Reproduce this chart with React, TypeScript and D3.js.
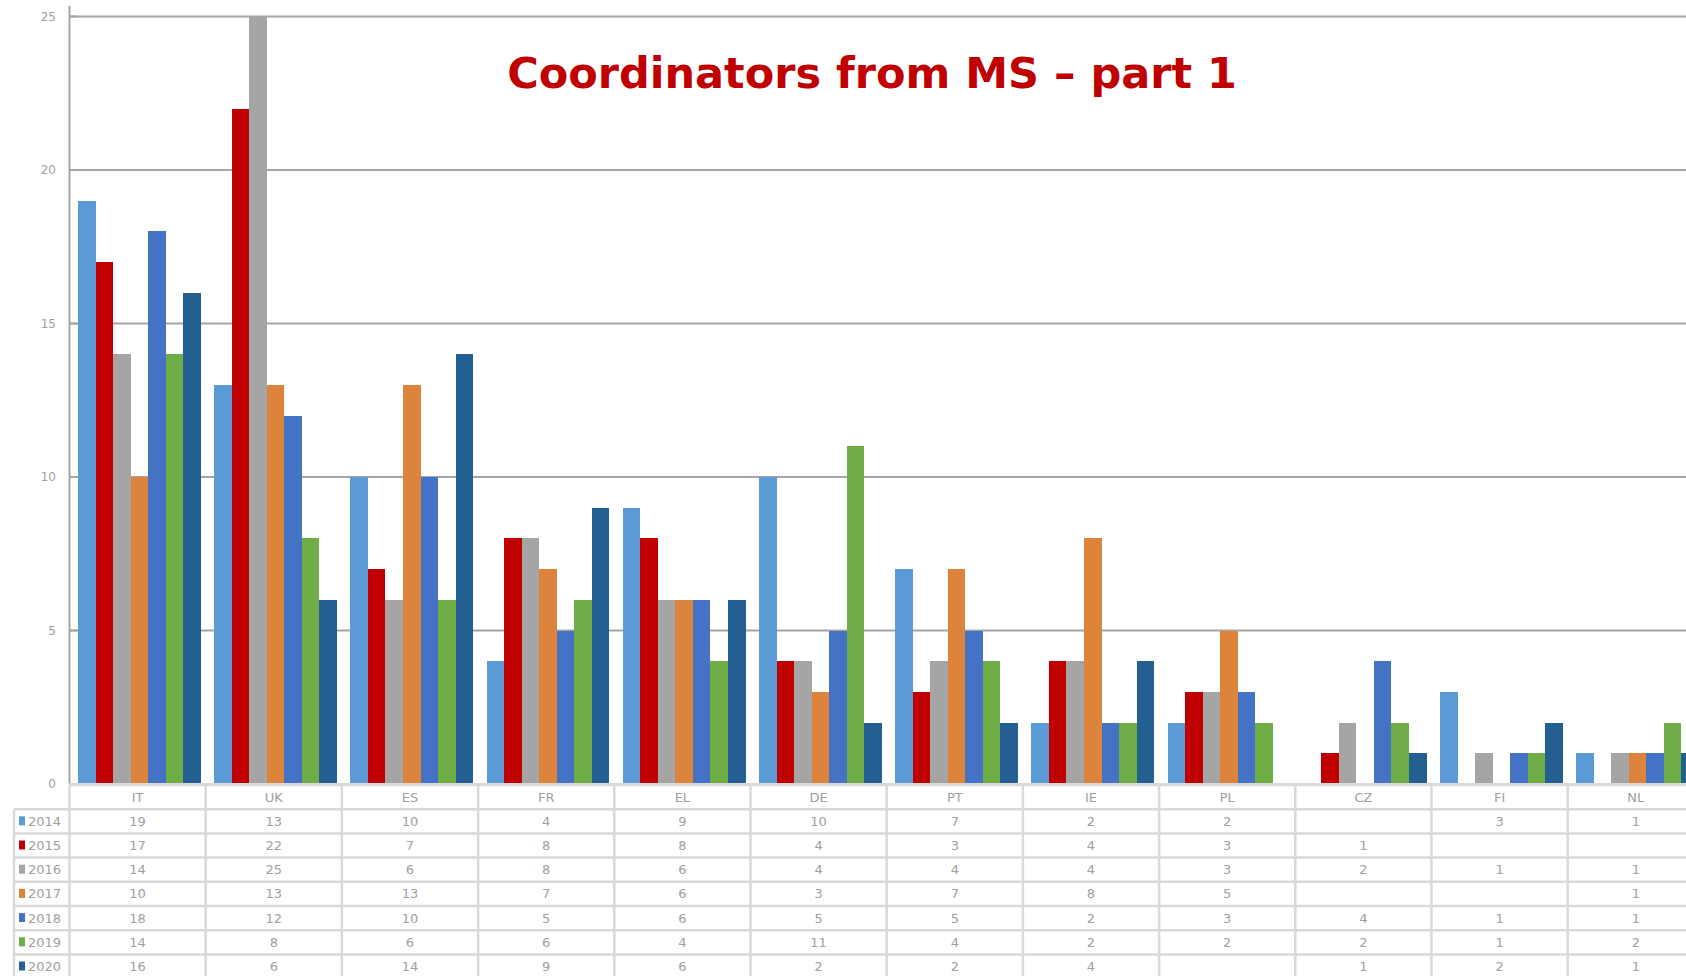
import * as d3 from "d3";

const countries = ["IT", "UK", "ES", "FR", "EL", "DE", "PT", "IE", "PL", "CZ", "FI", "NL"];
const years = ["2014", "2015", "2016", "2017", "2018", "2019", "2020"];
const colors = ["#5b9bd5", "#c00000", "#a5a5a5", "#dd843c", "#4472c4", "#70ad47", "#245f91"];

// null = empty cell in the table (no bar)
const v2014 = [19, 13, 10, 4, 9, 10, 7, 2, 2, null, 3, 1];
const v2015 = [17, 22, 7, 8, 8, 4, 3, 4, 3, 1, null, null];
const v2016 = [14, 25, 6, 8, 6, 4, 4, 4, 3, 2, 1, 1];
const v2017 = [10, 13, 13, 7, 6, 3, 7, 8, 5, null, null, 1];
const v2018 = [18, 12, 10, 5, 6, 5, 5, 2, 3, 4, 1, 1];
const v2019 = [14, 8, 6, 6, 4, 11, 4, 2, 2, 2, 1, 2];
const v2020 = [16, 6, 14, 9, 6, 2, 2, 4, null, 1, 2, 1];
const series = [v2014, v2015, v2016, v2017, v2018, v2019, v2020];

const yTicks = [0, 5, 10, 15, 20, 25];

const W = 1686;
const H = 976;
const axisX = 69.5;
const colW = 136.2;
const baseY = 784;
const topY = 16.5;
const tableTop = 785;
const rowH = 24.2;
const gridColor = "#a6a6a6";
const tableLine = "#d9d9d9";
const textColor = "#a0a0a0";

export default function App() {
  const x = d3
    .scaleBand()
    .domain(countries)
    .range([axisX, axisX + colW * countries.length]);
  // bars sit a little right of the column centre, as in the original
  const xInner = d3.scaleBand().domain(years).range([8.5, colW - 5]);
  const y = d3.scaleLinear().domain([0, 25]).range([baseY, topY]);

  const rowY = (i) => tableTop + rowH * i;

  return (
    <svg
      width={W}
      height={H}
      style={{ position: "absolute", left: 0, top: 0, background: "#fff" }}
      fontFamily="'DejaVu Sans', Verdana, sans-serif"
    >
      {/* gridlines */}
      {yTicks
        .filter((t) => t > 0)
        .map((t) => (
          <line key={"g" + t} x1={axisX} x2={W} y1={y(t)} y2={y(t)} stroke={gridColor} strokeWidth={2} />
        ))}

      {/* bars */}
      {countries.map((c, ci) =>
        series.map((s, si) => {
          const v = s[ci];
          if (v == null) return null;
          return (
            <rect
              key={c + si}
              x={x(c) + xInner(years[si])}
              width={xInner.bandwidth()}
              y={y(v)}
              height={y(0) - y(v)}
              fill={colors[si]}
              shapeRendering="crispEdges"
            />
          );
        })
      )}

      {/* y axis */}
      <line x1={axisX} x2={axisX} y1={6} y2={baseY} stroke={gridColor} strokeWidth={2} />
      {yTicks.map((t) => (
        <g key={"t" + t}>
          <line x1={axisX} x2={axisX + 8} y1={y(t)} y2={y(t)} stroke={gridColor} strokeWidth={2} />
          <text x={56} y={y(t) + 4} textAnchor="end" fontSize={12} fill={textColor}>
            {t}
          </text>
        </g>
      ))}

      {/* title */}
      <text x={872} y={88} textAnchor="middle" fontSize={43} fontWeight="bold" fill="#c00000">
        Coordinators from MS – part 1
      </text>

      {/* data table */}
      <g stroke={tableLine} strokeWidth={2.5}>
        <line x1={axisX} x2={W} y1={rowY(0)} y2={rowY(0)} />
        {years.map((yr, i) => (
          <line key={"h" + yr} x1={14} x2={W} y1={rowY(i + 1)} y2={rowY(i + 1)} />
        ))}
        <line x1={14} x2={14} y1={rowY(1)} y2={H} />
        {countries.map((c) => (
          <line key={"v" + c} x1={x(c)} x2={x(c)} y1={rowY(0)} y2={H} />
        ))}
        <line x1={x.range()[1]} x2={x.range()[1]} y1={rowY(0)} y2={H} />
      </g>
      <line x1={axisX} x2={W} y1={baseY} y2={baseY} stroke={tableLine} strokeWidth={2} />

      {countries.map((c) => (
        <text
          key={"c" + c}
          x={x(c) + colW / 2}
          y={rowY(0) + rowH / 2 + 4.5}
          textAnchor="middle"
          fontSize={13}
          fill={textColor}
        >
          {c}
        </text>
      ))}

      {years.map((yr, si) => (
        <g key={"r" + yr}>
          <rect x={19} y={rowY(si + 1) + rowH / 2 - 5} width={6} height={9} fill={colors[si]} />
          <text x={28} y={rowY(si + 1) + rowH / 2 + 4.5} fontSize={13} fill={textColor}>
            {yr}
          </text>
          {countries.map((c, ci) =>
            series[si][ci] == null ? null : (
              <text
                key={yr + c}
                x={x(c) + colW / 2}
                y={rowY(si + 1) + rowH / 2 + 4.5}
                textAnchor="middle"
                fontSize={13}
                fill={textColor}
              >
                {series[si][ci]}
              </text>
            )
          )}
        </g>
      ))}
    </svg>
  );
}
